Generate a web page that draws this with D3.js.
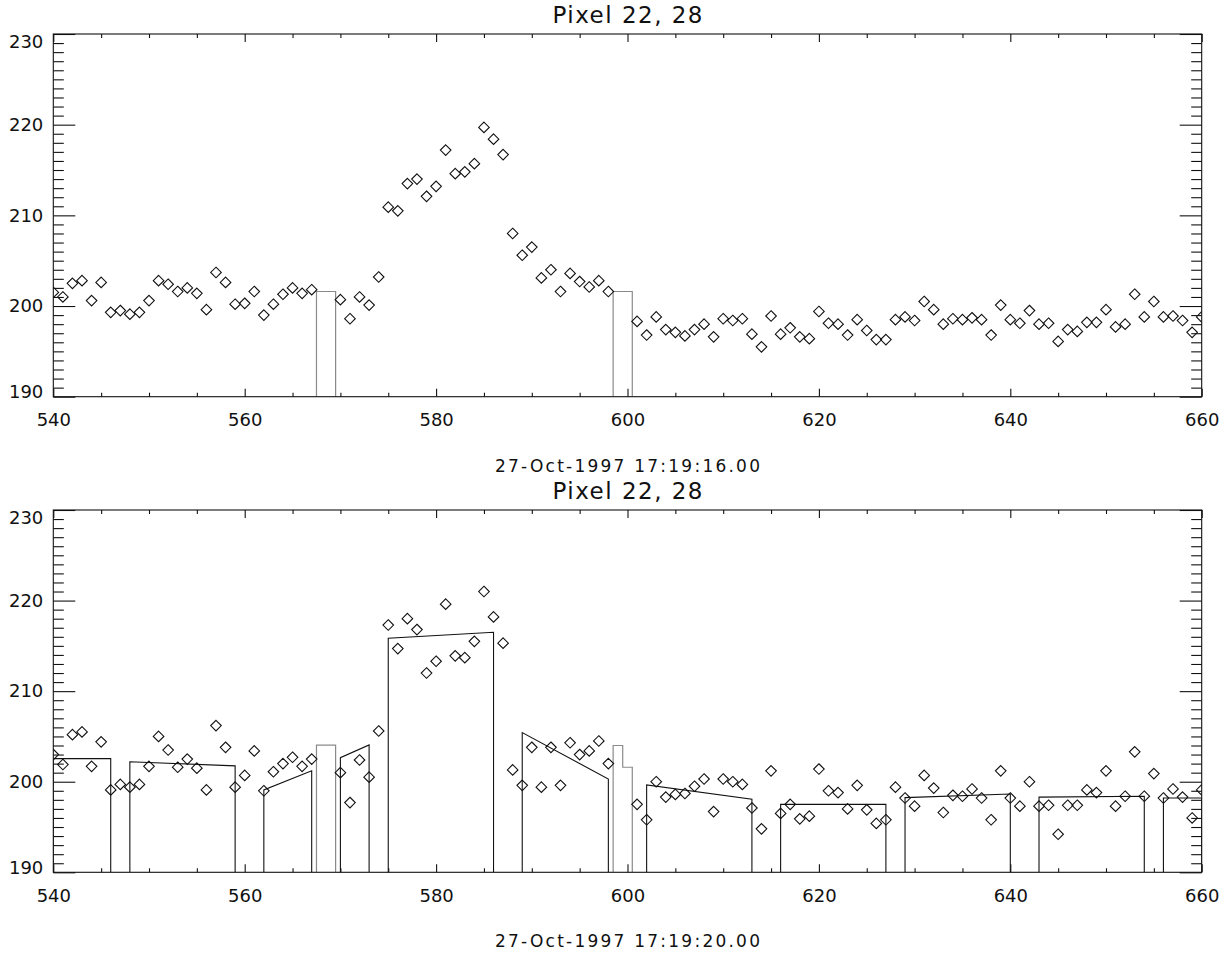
<!DOCTYPE html>
<html>
<head>
<meta charset="utf-8">
<script src="https://cdn.jsdelivr.net/npm/d3@7"></script>
<style>
  body { margin: 0; background: #fff; }
  svg { display: block; }
  text { font-family: "DejaVu Sans", sans-serif; fill: #111; }
</style>
</head>
<body>
<div id="chart"></div>
<script>
// pixel index along the slit (categories)
const pixels = d3.range(540, 661);

// panel 1 counts (null = missing frame)
const counts1 = [
  201.5, 201.0, 202.5, 202.8, 200.6, 202.6, 199.3, 199.5, 199.1, 199.3,
  200.6, 202.8, 202.4, 201.6, 202.0, 201.4, 199.6, 203.7, 202.6, 200.2,
  200.3, 201.6, 199.0, 200.2, 201.3, 202.0, 201.4, 201.8, null, null,
  200.7, 198.6, 201.0, 200.1, 203.2, 210.9, 210.5, 213.5, 214.0, 212.1,
  213.2, 217.2, 214.6, 214.8, 215.7, 219.7, 218.4, 216.7, 208.0, 205.6,
  206.5, 203.1, 204.0, 201.6, 203.6, 202.7, 202.1, 202.8, 201.6, null,
  null, 198.3, 196.8, 198.8, 197.4, 197.1, 196.7, 197.4, 198.0, 196.6,
  198.6, 198.4, 198.6, 196.9, 195.5, 198.9, 196.9, 197.6, 196.6, 196.4,
  199.4, 198.1, 198.0, 196.8, 198.5, 197.3, 196.3, 196.3, 198.5, 198.8,
  198.4, 200.5, 199.6, 198.0, 198.6, 198.5, 198.7, 198.5, 196.8, 200.1,
  198.5, 198.1, 199.5, 198.0, 198.1, 196.1, 197.4, 197.2, 198.2, 198.2,
  199.6, 197.7, 198.0, 201.3, 198.8, 200.5, 198.8, 198.9, 198.4, 197.1,
  198.8
];

// panel 2 counts
const counts2 = [
  203.0, 201.9, 205.2, 205.5, 201.7, 204.4, 199.1, 199.7, 199.4, 199.7,
  201.7, 205.0, 203.5, 201.6, 202.5, 201.5, 199.1, 206.2, 203.8, 199.4,
  200.7, 203.4, 199.0, 201.1, 202.0, 202.7, 201.7, 202.5, null, null,
  201.0, 197.7, 202.4, 200.5, 205.6, 217.3, 214.7, 218.0, 216.8, 212.0,
  213.3, 219.6, 213.9, 213.7, 215.5, 221.0, 218.2, 215.3, 201.3, 199.6,
  203.8, 199.4, 203.8, 199.6, 204.3, 203.0, 203.4, 204.5, 202.0, null,
  null, 197.5, 195.8, 200.0, 198.3, 198.6, 198.7, 199.5, 200.3, 196.7,
  200.3, 200.0, 199.7, 197.1, 194.8, 201.2, 196.5, 197.5, 195.9, 196.2,
  201.4, 199.0, 198.8, 197.0, 199.6, 196.9, 195.4, 195.8, 199.4, 198.2,
  197.3, 200.7, 199.3, 196.6, 198.5, 198.4, 199.2, 198.2, 195.8, 201.2,
  198.2, 197.3, 200.0, 197.3, 197.4, 194.2, 197.4, 197.4, 199.1, 198.8,
  201.2, 197.3, 198.4, 203.3, 198.4, 200.9, 198.2, 199.2, 198.3, 196.0,
  199.1
];

// gray gap bars: [from, to, level]
const gaps1 = [[567.5, 569.5, 201.6], [598.5, 600.5, 201.6]];
const gaps2 = [[567.5, 569.5, 204.05], [598.5, 599.5, 204.0], [599.5, 600.5, 201.6]];

// fitted segments in panel 2: [x0, y0, x1, y1]
const fits2 = [
  [540, 202.55, 546, 202.55],
  [548, 202.2, 559, 201.75],
  [562, 199.1, 567, 201.2],
  [570, 202.66, 573, 204.06],
  [575, 215.84, 586, 216.5],
  [589, 205.42, 598, 200.3],
  [602, 199.65, 613, 198.07],
  [616, 197.5, 627, 197.5],
  [629, 198.25, 640, 198.65],
  [643, 198.3, 654, 198.4],
  [656, 198.2, 660, 198.2]
];

const titles = ['Pixel 22, 28', 'Pixel 22, 28'];
const stamps = ['27-Oct-1997 17:19:16.00', '27-Oct-1997 17:19:20.00'];
const xTicks = [540, 560, 580, 600, 620, 640, 660];
const yTicks = [190, 200, 210, 220, 230];

const W = 1222, H = 954;
const left = 53.3, right = 1201.7;
const panels = [
  { top: 34, bottom: 396.7, counts: counts1, gaps: gaps1, fits: [], title: titles[0], stamp: stamps[0] },
  { top: 510, bottom: 872.3, counts: counts2, gaps: gaps2, fits: fits2, title: titles[1], stamp: stamps[1] }
];

const svg = d3.select('#chart').append('svg')
  .attr('width', W)
  .attr('height', H);
svg.append('rect').attr('width', W).attr('height', H).attr('fill', '#fff');

const x = d3.scaleLinear().domain([540, 660]).range([left, right]);

panels.forEach((p, i) => {
  const y = d3.scaleLinear().domain([190, 230]).range([p.bottom, p.top]);
  const g = svg.append('g');

  const clipId = 'clip' + i;
  svg.append('clipPath').attr('id', clipId)
    .append('rect')
    .attr('x', left).attr('y', p.top)
    .attr('width', right - left).attr('height', p.bottom - p.top);

  const plot = g.append('g').attr('clip-path', `url(#${clipId})`);

  // gray gap outline (consecutive bars drawn as one step path)
  const groups = [];
  p.gaps.forEach(b => {
    const last = groups[groups.length - 1];
    if (last && last[last.length - 1][1] === b[0]) last.push(b);
    else groups.push([b]);
  });
  groups.forEach(grp => {
    const pts = [[grp[0][0], 190]];
    grp.forEach(b => { pts.push([b[0], b[2]]); pts.push([b[1], b[2]]); });
    pts.push([grp[grp.length - 1][1], 190]);
    plot.append('path')
      .attr('d', d3.line().x(d => x(d[0])).y(d => y(d[1]))(pts))
      .attr('fill', 'none')
      .attr('stroke', '#8a8a8a')
      .attr('stroke-width', 1.2);
  });

  // fitted segments
  p.fits.forEach(f => {
    const pts = [[f[0], 190], [f[0], f[1]], [f[2], f[3]], [f[2], 190]];
    plot.append('path')
      .attr('d', d3.line().x(d => x(d[0])).y(d => y(d[1]))(pts))
      .attr('fill', 'none')
      .attr('stroke', '#111')
      .attr('stroke-width', 1.1);
  });

  // diamonds
  const pts = pixels.map((px, k) => ({ px, v: p.counts[k] })).filter(d => d.v !== null);
  const s = 5.3;
  plot.selectAll('path.pt')
    .data(pts)
    .enter().append('path')
    .attr('class', 'pt')
    .attr('d', d => {
      const cx = x(d.px), cy = y(d.v);
      return `M${cx},${cy - s}L${cx + s},${cy}L${cx},${cy + s}L${cx - s},${cy}Z`;
    })
    .attr('fill', 'none')
    .attr('stroke', '#111')
    .attr('stroke-width', 1.1);

  // axes: major and minor ticks, inward on all four sides
  const minorX = d3.range(540, 661, 5).filter(v => v % 20 !== 0);
  const minorY = d3.range(190, 231, 1).filter(v => v % 10 !== 0);
  const axStyle = sel => {
    sel.select('.domain').remove();
    sel.selectAll('line').attr('stroke', '#111').attr('stroke-width', 1.1);
  };

  g.append('g').attr('transform', `translate(0,${p.bottom})`)
    .call(d3.axisBottom(x).tickValues(xTicks).tickFormat(d3.format('d')).tickSize(-8).tickPadding(17))
    .call(axStyle)
    .call(a => a.selectAll('text').attr('font-size', 18).attr('fill', '#111')
      .style('font-family', '"DejaVu Sans", sans-serif'));
  g.append('g').attr('transform', `translate(0,${p.bottom})`)
    .call(d3.axisBottom(x).tickValues(minorX).tickFormat('').tickSize(-4))
    .call(axStyle);
  g.append('g').attr('transform', `translate(0,${p.top})`)
    .call(d3.axisTop(x).tickValues(xTicks).tickFormat('').tickSize(-8))
    .call(axStyle);
  g.append('g').attr('transform', `translate(0,${p.top})`)
    .call(d3.axisTop(x).tickValues(minorX).tickFormat('').tickSize(-4))
    .call(axStyle);

  g.append('g').attr('transform', `translate(${left},0)`)
    .call(d3.axisLeft(y).tickValues(yTicks).tickFormat(d3.format('d')).tickSize(-22).tickPadding(10))
    .call(axStyle)
    .call(a => a.selectAll('text').attr('font-size', 18).attr('fill', '#111')
      .style('font-family', '"DejaVu Sans", sans-serif')
      .attr('y', d => {
        const py = y(d);
        if (py < p.top + 7.5) return p.top + 7.5 - py;
        if (py > p.bottom - 4.5) return p.bottom - 4.5 - py;
        return 0;
      }));
  g.append('g').attr('transform', `translate(${left},0)`)
    .call(d3.axisLeft(y).tickValues(minorY).tickFormat('').tickSize(-10.5))
    .call(axStyle);
  g.append('g').attr('transform', `translate(${right},0)`)
    .call(d3.axisRight(y).tickValues(yTicks).tickFormat('').tickSize(-22))
    .call(axStyle);
  g.append('g').attr('transform', `translate(${right},0)`)
    .call(d3.axisRight(y).tickValues(minorY).tickFormat('').tickSize(-10.5))
    .call(axStyle);

  // frame
  g.append('rect')
    .attr('x', left).attr('y', p.top)
    .attr('width', right - left).attr('height', p.bottom - p.top)
    .attr('fill', 'none')
    .attr('stroke', '#111')
    .attr('stroke-width', 1.1);

  const mid = (left + right) / 2;
  g.append('text')
    .attr('x', mid).attr('y', p.top - 11)
    .attr('text-anchor', 'middle')
    .attr('font-size', 23)
    .attr('textLength', 150)
    .attr('lengthAdjust', 'spacing')
    .text(p.title);
  g.append('text')
    .attr('x', mid).attr('y', p.bottom + 75)
    .attr('text-anchor', 'middle')
    .attr('font-size', 17)
    .attr('textLength', 265)
    .attr('lengthAdjust', 'spacing')
    .text(p.stamp);
});
</script>
</body>
</html>
